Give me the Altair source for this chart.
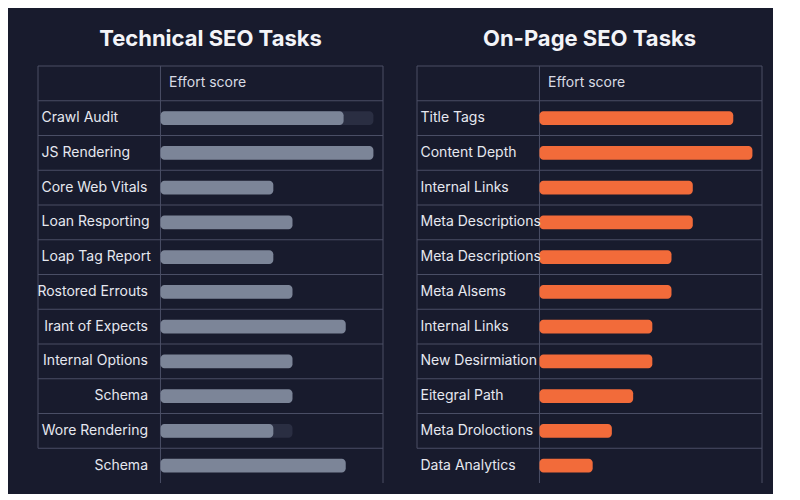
import altair as alt
import pandas as pd

# ---- data ----
tech_title = "Technical SEO Tasks"
tech_tasks = ["Crawl Audit", "JS Rendering", "Core Web Vitals", "Loan Resporting",
              "Loap Tag Report", "Rostored Errouts", "Irant of Expects",
              "Internal Options", "Schema", "Wore Rendering", "Schema"]
tech_scores = [86, 100, 53, 62, 53, 62, 87, 62, 62, 53, 87]
tech_tracks = [100, None, None, None, None, None, None, None, None, 62, None]

onpage_title = "On-Page SEO Tasks"
onpage_tasks = ["Title Tags", "Content Depth", "Internal Links", "Meta Descriptions",
                "Meta Descriptions", "Meta Alsems", "Internal Links", "New Desirmiation",
                "Eitegral Path", "Meta Droloctions", "Data Analytics"]
onpage_scores = [91, 100, 72, 72, 62, 62, 53, 53, 44, 34, 25]
onpage_tracks = [None] * 11

header_text = "Effort score"

# ---- style ----
BG = "#181b2d"
GRID = "#4a4e65"
TEXT = "#e6e8f0"
FONT = "Inter"
XMIN, XMAX = -57.5, 104.5
W, H = 345, 417
NROWS = 12


def panel(title, tasks, scores, tracks, color, left_aligned_rows):
    n = len(tasks)
    rows = list(range(1, n + 1))
    df = pd.DataFrame({
        "row": rows,
        "task": tasks,
        "score": scores,
        "track": tracks,
        "start": [0] * n,
        "y0": [r + 0.3 for r in rows],
        "y1": [r + 0.7 for r in rows],
        "yc": [r + 0.5 for r in rows],
    })
    xs = alt.Scale(domain=[XMIN, XMAX], nice=False, zero=False)
    ys = alt.Scale(domain=[0, NROWS], reverse=True, nice=False, zero=False)

    hl = pd.DataFrame({"y": list(range(0, n + 1)), "x": [XMIN] * (n + 1), "x2": [XMAX] * (n + 1)})
    vl = pd.DataFrame({"x": [XMIN, 0, XMAX], "y": [0, 0, 0], "y2": [n, NROWS, NROWS]})

    hrules = alt.Chart(hl).mark_rule(color=GRID, strokeWidth=1).encode(
        x=alt.X("x:Q", scale=xs, axis=None), x2="x2:Q",
        y=alt.Y("y:Q", scale=ys, axis=None))
    vrules = alt.Chart(vl).mark_rule(color=GRID, strokeWidth=1).encode(
        x=alt.X("x:Q", scale=xs, axis=None),
        y=alt.Y("y:Q", scale=ys, axis=None), y2="y2:Q")

    track = alt.Chart(df).transform_filter("datum.track != null").mark_bar(
        color="#2a2e42", cornerRadius=4).encode(
        x=alt.X("start:Q", scale=xs, axis=None), x2="track:Q",
        y=alt.Y("y0:Q", scale=ys, axis=None), y2="y1:Q")
    bars = alt.Chart(df).mark_bar(color=color, cornerRadius=4).encode(
        x=alt.X("start:Q", scale=xs, axis=None), x2="score:Q",
        y=alt.Y("y0:Q", scale=ys, axis=None), y2="y1:Q")

    lab_left = alt.Chart(df).transform_filter(f"datum.row <= {left_aligned_rows}").mark_text(
        align="left", baseline="middle", font=FONT, fontSize=14, color=TEXT).encode(
        x=alt.value(3.5), y=alt.Y("yc:Q", scale=ys, axis=None), text="task:N")
    lab_right = alt.Chart(df).transform_filter(f"datum.row > {left_aligned_rows}").mark_text(
        align="right", baseline="middle", font=FONT, fontSize=14, color=TEXT).encode(
        x=alt.value(110), y=alt.Y("yc:Q", scale=ys, axis=None), text="task:N")

    header = alt.Chart(pd.DataFrame({"t": [header_text], "yc": [0.5]})).mark_text(
        align="left", baseline="middle", font=FONT, fontSize=14, color="#d9dbe4").encode(
        x=alt.value(131), y=alt.Y("yc:Q", scale=ys, axis=None), text="t:N")

    return alt.layer(hrules, vrules, track, bars, lab_left, lab_right, header).properties(
        width=W, height=H,
        title=alt.TitleParams(text=title, fontSize=22, font=FONT, fontWeight="bold",
                              color="#f3f4f8", anchor="middle", offset=15))


left = panel(tech_title, tech_tasks, tech_scores, tech_tracks, "#7c8598", 5)
right = panel(onpage_title, onpage_tasks, onpage_scores, onpage_tracks, "#f26b3a", 11)

chart = alt.hconcat(left, right, spacing=32).properties(
    background=BG,
    padding={"left": 29, "top": 19, "right": 10, "bottom": 10},
).configure_view(stroke=None)

chart.save("out.html", embed_options={"renderer": "svg", "actions": False})
